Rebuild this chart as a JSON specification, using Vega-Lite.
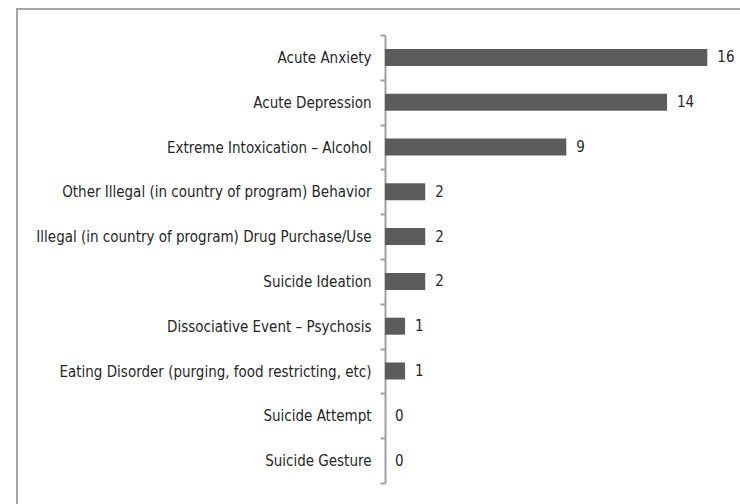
{
  "$schema": "https://vega.github.io/schema/vega-lite/v6.json",
  "width": 726,
  "height": 498,
  "autosize": {"type": "none"},
  "padding": {"left": 17, "top": 9, "right": -3, "bottom": -3},
  "background": "white",
  "config": {"view": {"stroke": "#a6a6a6", "strokeWidth": 2}},
  "data": {
    "values": [
      {"category": "Acute Anxiety", "count": 16},
      {"category": "Acute Depression", "count": 14},
      {"category": "Extreme Intoxication – Alcohol", "count": 9},
      {"category": "Other Illegal (in country of program) Behavior", "count": 2},
      {"category": "Illegal (in country of program) Drug Purchase/Use", "count": 2},
      {"category": "Suicide Ideation", "count": 2},
      {"category": "Dissociative Event – Psychosis", "count": 1},
      {"category": "Eating Disorder (purging, food restricting, etc)", "count": 1},
      {"category": "Suicide Attempt", "count": 0},
      {"category": "Suicide Gesture", "count": 0}
    ]
  },
  "encoding": {
    "y": {
      "field": "category",
      "type": "nominal",
      "sort": null,
      "scale": {"range": [26, 474], "paddingInner": 0, "paddingOuter": 0},
      "axis": {
        "title": null,
        "offset": -368,
        "domainColor": "#a0a0a0",
        "domainWidth": 2,
        "tickColor": "#a0a0a0",
        "tickWidth": 2,
        "tickSize": 5,
        "tickBand": "extent",
        "labelPadding": 9,
        "labelFont": "DejaVu Sans Condensed, Open Sans, sans-serif",
        "labelFontSize": 15,
        "labelColor": "#262626",
        "labelLimit": 400
      }
    },
    "x": {
      "field": "count",
      "type": "quantitative",
      "scale": {"domain": [-18.26, 17.77], "nice": false, "zero": false},
      "axis": null
    }
  },
  "layer": [
    {"mark": {"type": "bar", "color": "#5c5c5c", "height": {"band": 0.38}}},
    {
      "mark": {"type": "text", "align": "left", "baseline": "middle", "dx": 10, "font": "DejaVu Sans Condensed, Open Sans, sans-serif", "fontSize": 15, "color": "#262626"},
      "encoding": {"text": {"field": "count", "type": "quantitative"}}
    }
  ]
}
